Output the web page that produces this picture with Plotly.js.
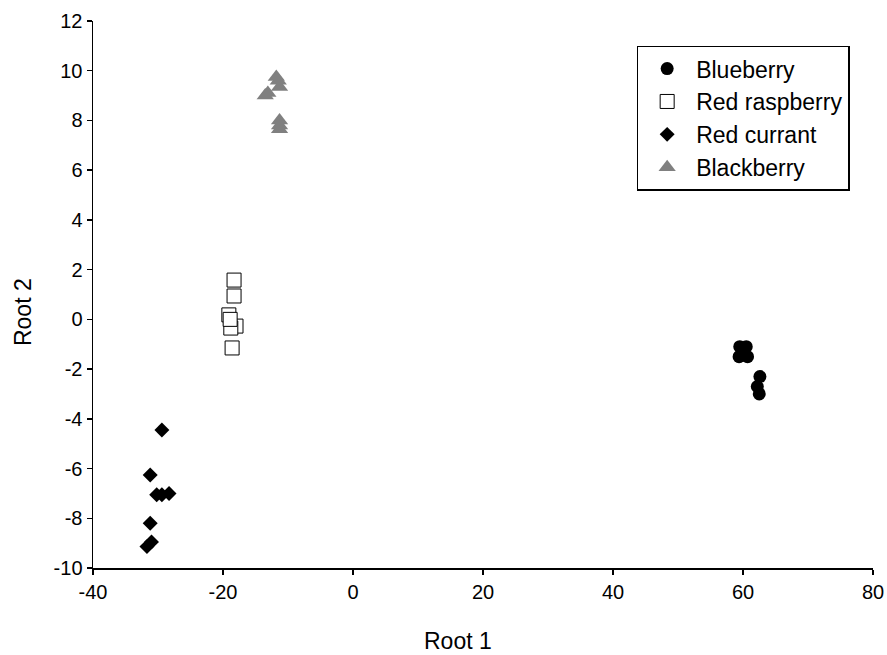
<!DOCTYPE html>
<html>
<head>
<meta charset="utf-8">
<script src="https://cdn.plot.ly/plotly-3.0.1.min.js"></script>
<style>html,body{margin:0;padding:0;background:#fff;}#chart{width:887px;height:655px;}</style>
</head>
<body>
<div id="chart"></div>
<script>
// Data (Root 1, Root 2)
const blueberryX = [59.5, 60.5, 59.4, 60.7, 60.1, 62.6, 62.2, 62.5];
const blueberryY = [-1.1, -1.1, -1.5, -1.5, -1.3, -2.3, -2.7, -3.0];

const raspberryX = [-18.3, -18.3, -19.1, -18.0, -18.8, -18.6, -18.9];
const raspberryY = [1.58, 0.94, 0.18, -0.27, -0.35, -1.15, 0.0];

const currantX = [-29.4, -31.2, -30.2, -29.4, -28.3, -31.2, -31.0, -31.7];
const currantY = [-4.45, -6.26, -7.05, -7.05, -7.0, -8.2, -8.95, -9.14];

const blackberryX = [-11.8, -11.5, -11.3, -13.5, -13.1, -11.3, -11.3, -11.3];
const blackberryY = [9.75, 9.6, 9.35, 9.0, 9.1, 8.0, 7.8, 7.65];

const seriesNames = ["Blueberry", "Red raspberry", "Red currant", "Blackberry"];
const xTicks = [-40, -20, 0, 20, 40, 60, 80];
const yTicks = [-10, -8, -6, -4, -2, 0, 2, 4, 6, 8, 10, 12];
const xTitle = "Root 1";
const yTitle = "Root 2";

const font = "Liberation Sans, Arial, sans-serif";

const traces = [
  {x: blueberryX, y: blueberryY, name: seriesNames[0], legendgroup: "a",
   marker: {symbol: "circle", size: 13, color: "#000000"}},
  {x: raspberryX, y: raspberryY, name: seriesNames[1], legendgroup: "b",
   marker: {symbol: "square", size: 14, color: "#ffffff", line: {color: "#000000", width: 1}}},
  {x: currantX, y: currantY, name: seriesNames[2], legendgroup: "c",
   marker: {symbol: "diamond", size: 11.5, color: "#000000"}},
  {x: blackberryX, y: blackberryY, name: seriesNames[3], legendgroup: "d",
   marker: {symbol: "triangle-up", size: 15, color: "#808080"}}
].map(t => Object.assign({type: "scatter", mode: "markers", cliponaxis: false}, t));

const layout = {
  width: 887, height: 655,
  margin: {l: 93, r: 14, t: 21, b: 87},
  paper_bgcolor: "#ffffff", plot_bgcolor: "#ffffff",
  font: {family: font, color: "#000000", size: 20},
  showlegend: true,
  legend: {
    x: 0.697, y: 0.955, xanchor: "left", yanchor: "top",
    bordercolor: "#000000", borderwidth: 1.5, bgcolor: "#ffffff",
    font: {family: font, size: 23, color: "#000000"},
    traceorder: "grouped", tracegroupgap: 0, itemwidth: 48
  },
  xaxis: {
    range: [-40, 80], tickvals: xTicks, ticktext: xTicks.map(String),
    showgrid: false, zeroline: false, showline: true, linecolor: "#000000", linewidth: 1.5,
    ticks: "outside", ticklen: 5, tickwidth: 1.5, tickcolor: "#000000",
    tickfont: {family: font, size: 20}
  },
  yaxis: {
    range: [-10, 12], tickvals: yTicks, ticktext: yTicks.map(String),
    showgrid: false, zeroline: false, showline: true, linecolor: "#000000", linewidth: 1.5,
    ticks: "outside", ticklen: 5, tickwidth: 1.5, tickcolor: "#000000",
    tickfont: {family: font, size: 20}
  },
  annotations: [
    {text: xTitle, xref: "paper", yref: "paper", x: 0.468, y: -0.1335,
     xanchor: "center", yanchor: "middle", showarrow: false, font: {family: font, size: 23}},
    {text: yTitle, xref: "paper", yref: "paper", x: -0.0897, y: 0.468, textangle: -90,
     xanchor: "center", yanchor: "middle", showarrow: false, font: {family: font, size: 23}}
  ]
};

Plotly.newPlot("chart", traces, layout, {displayModeBar: false, staticPlot: true});
</script>
</body>
</html>
